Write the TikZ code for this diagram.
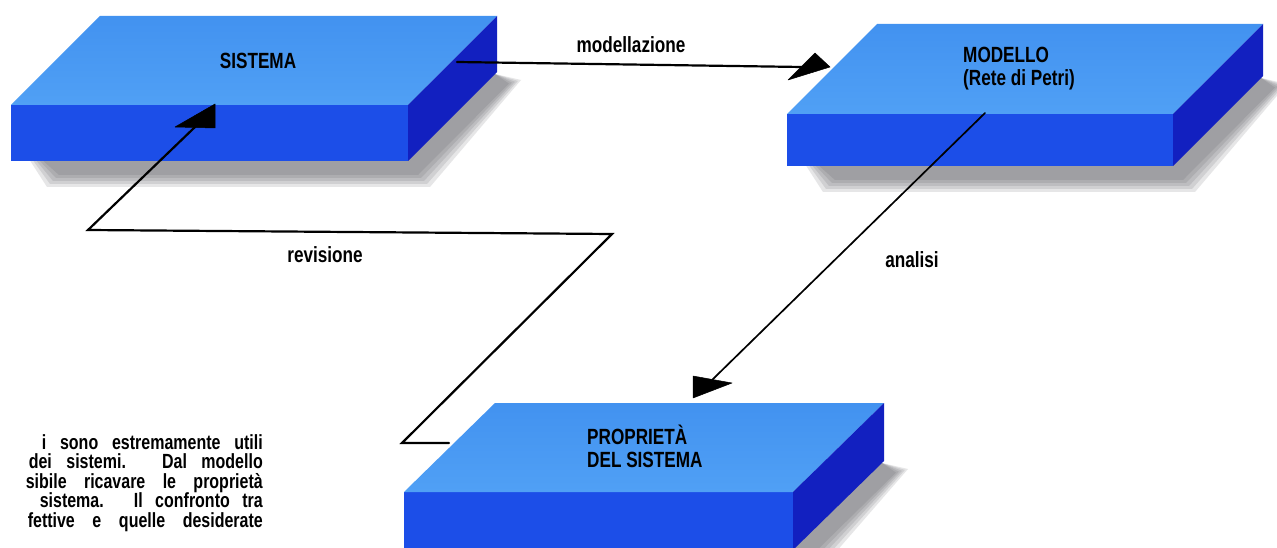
\documentclass[tikz,border=0pt]{standalone}
\usepackage{fontspec}
\setmainfont{Liberation Sans}[FakeStretch=0.78]
\usetikzlibrary{arrows.meta,calc}
\definecolor{topc}{RGB}{80,160,245}
\definecolor{topd}{RGB}{66,146,240}
\definecolor{frontc}{RGB}{28,78,232}
\definecolor{sidec}{RGB}{18,32,192}
\definecolor{shad}{RGB}{80,80,85}
\tikzset{
  lbl/.style={font=\bfseries\fontsize{22}{23}\selectfont, inner sep=0pt},
  para/.style={font=\bfseries\fontsize{20.5}{20}\selectfont, inner sep=0pt, anchor=base east},
  conn/.style={line width=2.2pt, line cap=round},
  thinconn/.style={line width=1.7pt, line cap=round},
  head/.style={fill=black, draw=black, line width=0.5pt, line join=round},
  shadowlayer/.style={fill=shad, opacity=0.14},
}
% #1 name, #2 x, #3 y (front top-left), #4 width, #5 height, #6 dx, #7 dy (back offset)
\newcommand{\myslab}[7]{%
  \coordinate (#1-ftl) at (#2,#3);
  \coordinate (#1-ftr) at ({#2+#4},#3);
  \coordinate (#1-fbl) at (#2,{#3+#5});
  \coordinate (#1-fbr) at ({#2+#4},{#3+#5});
  \coordinate (#1-btl) at ({#2+#6},{#3+#7});
  \coordinate (#1-btr) at ({#2+#4+#6},{#3+#7});
  \coordinate (#1-bbr) at ({#2+#4+#6},{#3+#5+#7});
  % soft shadow
  \foreach \s in {0,3,6,9,12}{
    \fill[shadowlayer] ($(#1-fbl)+(18+\s,-2)$) -- ($(#1-bbr)+(-2,2)$)
      -- ($(#1-bbr)+(24-\s,{8+0.3*\s})$) -- ($(#1-fbr)+(22-\s,{26-\s})$)
      -- ($(#1-fbl)+(36+\s,{26-\s})$) -- cycle;
  }
  \fill[frontc] (#1-ftl) -- (#1-ftr) -- (#1-fbr) -- (#1-fbl) -- cycle;
  \shade[top color=topd, bottom color=topc] (#1-ftl) -- (#1-btl) -- (#1-btr) -- (#1-ftr) -- cycle;
  \fill[sidec] (#1-ftr) -- (#1-btr) -- (#1-bbr) -- (#1-fbr) -- cycle;
}
\begin{document}
\begin{tikzpicture}[x=1pt,y=-1pt]
\useasboundingbox (0,0) rectangle (1277,548);
\fill[white] (0,0) rectangle (1277,548);

\myslab{sis}{11}{105}{397}{56}{89}{-89}
\myslab{mod}{787}{114}{386}{52}{90}{-90}
\myslab{pro}{404}{492}{389}{58}{91}{-89}

% labels
\node[lbl, anchor=base] (tsis) at (258,69) {SISTEMA};
\node[lbl, align=left, anchor=base west] (tmod) at (963,86) {MODELLO\\(Rete di Petri)};
\node[lbl, align=left, anchor=base west] (tpro) at (587,467) {PROPRIETÀ\\DEL SISTEMA};
\node[lbl, anchor=base] (tmodel) at (631,53) {modellazione};
\node[lbl, anchor=base] (trev) at (325,262) {revisione};
\node[lbl, anchor=base] (tana) at (912,267) {analisi};

% connector coordinates
\coordinate (m0) at (457,62);
\coordinate (m1) at (802,67);
\coordinate (mt) at (830,67);
\coordinate (mb1) at (815,53);
\coordinate (mb2) at (788,80);

\coordinate (a0) at (985,113);
\coordinate (a1) at (712,380);
\coordinate (at) at (693,398);
\coordinate (ab1) at (693,376);
\coordinate (ab2) at (732,383);

\coordinate (r0) at (449,443);
\coordinate (r1) at (402,443);
\coordinate (r2) at (612,234);
\coordinate (r3) at (88,230);
\coordinate (r4) at (195,127);
\coordinate (rt) at (215,104);
\coordinate (rb1) at (175,127);
\coordinate (rb2) at (215,128);

% modellazione
\draw[conn] (m0) -- (m1);
\fill[head] (mt) -- (mb1) -- (mb2) -- cycle;
% analisi
\draw[thinconn] (a0) -- (a1);
\fill[head] (at) -- (ab1) -- (ab2) -- cycle;
% revisione
\draw[conn, line join=miter] (r0) -- (r1) -- (r2) -- (r3) -- (r4);
\fill[head] (rt) -- (rb1) -- (rb2) -- cycle;

% paragraph (cut at the left)
\node[para] (p1) at (263,449) {\makebox[221pt][s]{i sono estremamente utili}};
\node[para] (p2) at (263,468.5) {\makebox[234pt][s]{dei sistemi. Dal modello}};
\node[para] (p3) at (263,488) {\makebox[237pt][s]{sibile ricavare le proprietà}};
\node[para] (p4) at (263,507.5) {\makebox[223pt][s]{sistema. Il confronto tra}};
\node[para] (p5) at (263,527) {\makebox[235pt][s]{fettive e quelle desiderate}};
\end{tikzpicture}
\end{document}
